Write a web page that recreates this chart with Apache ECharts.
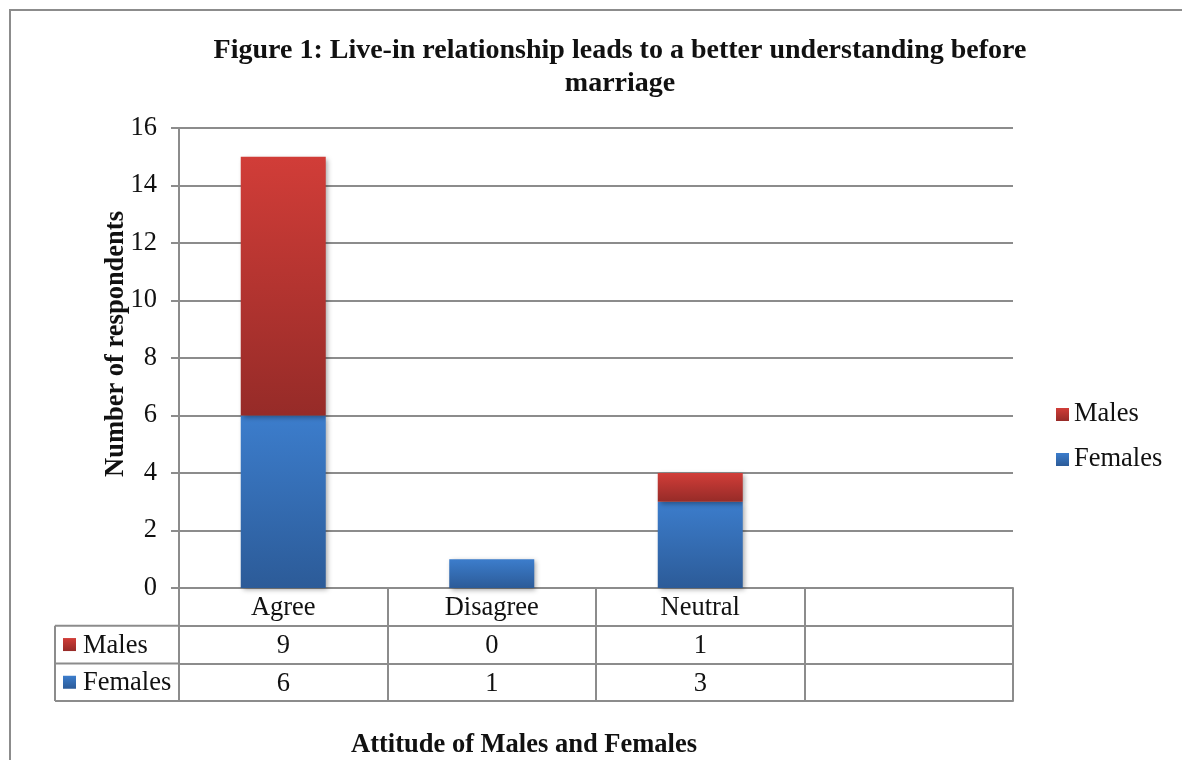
<!DOCTYPE html>
<html>
<head>
<meta charset="utf-8">
<title>Figure 1</title>
<script src="https://cdn.jsdelivr.net/npm/echarts@6/dist/echarts.min.js"></script>
<style>
  html, body { margin: 0; padding: 0; background: #ffffff; }
  #chart { width: 1182px; height: 760px; }
</style>
</head>
<body>
<div id="chart"></div>
<script>
// Survey answers by attitude
const categories = ['Agree', 'Disagree', 'Neutral', ''];
const males = [9, 0, 1];
const females = [6, 1, 3];
const yTicks = { min: 0, max: 16, step: 2 };

const FONT = "'Liberation Serif', 'Times New Roman', serif";
const FS = 26.5;
const LINE = '#8c8c8c';

// plot frame
const G = { left: 179, right: 169, top: 128, bottom: 172 };
const ROW = 37.7;
const TABLE_LEFT = 55;
const plotBottom = 760 - G.bottom;

const redFill = new echarts.graphic.LinearGradient(0, 0, 0, 1, [
  { offset: 0, color: '#d13d38' },
  { offset: 1, color: '#962b28' }
]);
const blueFill = new echarts.graphic.LinearGradient(0, 0, 0, 1, [
  { offset: 0, color: '#3c7dcc' },
  { offset: 1, color: '#2c5b98' }
]);

function tableAxis(idx, values, showLabel, showTick) {
  return {
    type: 'category',
    data: categories,
    position: 'bottom',
    offset: idx * ROW,
    axisLine: { show: true, lineStyle: { color: LINE, width: 2 } },
    axisTick: { show: showTick, interval: 0, length: ROW, lineStyle: { color: LINE, width: 2 } },
    axisLabel: {
      show: showLabel,
      interval: 0,
      margin: 7,
      fontFamily: FONT,
      fontSize: FS,
      color: '#111',
      formatter: (v, i) => (values ? (values[i] !== undefined ? String(values[i]) : '') : v)
    },
    splitLine: { show: false }
  };
}

function rowLabel(name, fill, rowIndex) {
  const cy = plotBottom + ROW * rowIndex + ROW / 2;
  return {
    type: 'group',
    children: [
      { type: 'rect', shape: { x: 63, y: cy - 6.5, width: 13, height: 13 }, style: { fill: fill } },
      { type: 'text', x: 83, y: cy + 1, style: { text: name, font: FS + 'px ' + FONT, fill: '#111', verticalAlign: 'middle', textAlign: 'left' } }
    ]
  };
}

const chart = echarts.init(document.getElementById('chart'), null, { renderer: 'canvas' });

chart.setOption({
  backgroundColor: '#ffffff',
  animation: false,
  title: [
    {
      text: 'Figure 1: Live-in relationship leads to a better understanding before\nmarriage',
      left: 615,
      top: 29,
      textAlign: 'center',
      textStyle: { fontFamily: FONT, fontSize: 28, fontWeight: 'bold', color: '#111', lineHeight: 33 }
    },
    {
      text: 'Attitude of Males and Females',
      left: 519,
      top: 727,
      textAlign: 'center',
      textStyle: { fontFamily: FONT, fontSize: FS, fontWeight: 'bold', color: '#111' }
    }
  ],
  legend: {
    orient: 'vertical',
    left: 1056,
    top: 401,
    padding: 0,
    itemWidth: 13,
    itemHeight: 13,
    itemGap: 18,
    icon: 'rect',
    data: ['Males', 'Females'],
    textStyle: { fontFamily: FONT, fontSize: FS, color: '#111' }
  },
  grid: { left: G.left, right: G.right, top: G.top, bottom: G.bottom, containLabel: false },
  xAxis: [
    tableAxis(0, null, true, true),
    tableAxis(1, males, true, true),
    tableAxis(2, females, true, true),
    tableAxis(3, null, false, false)
  ],
  yAxis: {
    type: 'value',
    min: yTicks.min,
    max: yTicks.max,
    interval: yTicks.step,
    name: 'Number of respondents',
    nameLocation: 'middle',
    nameRotate: 90,
    nameGap: 49,
    nameMoveOverlap: false,
    nameTextStyle: { fontFamily: FONT, fontSize: FS, fontWeight: 'bold', color: '#111', padding: [0, 0, 0, 28] },
    axisLine: { show: true, lineStyle: { color: LINE, width: 2 } },
    axisTick: { show: true, length: 8, lineStyle: { color: LINE, width: 2 } },
    axisLabel: { margin: 22, fontFamily: FONT, fontSize: FS, color: '#111' },
    splitLine: { show: true, lineStyle: { color: LINE, width: 2 } }
  },
  series: [
    {
      name: 'Females',
      type: 'bar',
      stack: 'total',
      data: females,
      barWidth: 85,
      itemStyle: {
        color: blueFill,
        shadowBlur: 5,
        shadowColor: 'rgba(0,0,0,0.35)',
        shadowOffsetX: 2,
        shadowOffsetY: 2
      }
    },
    {
      name: 'Males',
      type: 'bar',
      stack: 'total',
      data: males,
      barWidth: 85,
      itemStyle: {
        color: redFill,
        shadowBlur: 5,
        shadowColor: 'rgba(0,0,0,0.35)',
        shadowOffsetX: 2,
        shadowOffsetY: 2
      }
    }
  ],
  graphic: [
    // outer chart frame
    { type: 'rect', shape: { x: 10, y: 10, width: 1300, height: 900 }, style: { fill: 'none', stroke: '#8c8c8c', lineWidth: 2 }, silent: true },
    // legend column of the data table
    { type: 'line', shape: { x1: TABLE_LEFT, y1: plotBottom + ROW, x2: G.left, y2: plotBottom + ROW }, style: { stroke: LINE, lineWidth: 2 } },
    { type: 'line', shape: { x1: TABLE_LEFT, y1: plotBottom + 2 * ROW, x2: G.left, y2: plotBottom + 2 * ROW }, style: { stroke: LINE, lineWidth: 2 } },
    { type: 'line', shape: { x1: TABLE_LEFT, y1: plotBottom + 3 * ROW, x2: G.left, y2: plotBottom + 3 * ROW }, style: { stroke: LINE, lineWidth: 2 } },
    { type: 'line', shape: { x1: TABLE_LEFT, y1: plotBottom + ROW, x2: TABLE_LEFT, y2: plotBottom + 3 * ROW }, style: { stroke: LINE, lineWidth: 2 } },
    rowLabel('Males', redFill, 1),
    rowLabel('Females', blueFill, 2)
  ]
});
</script>
</body>
</html>
